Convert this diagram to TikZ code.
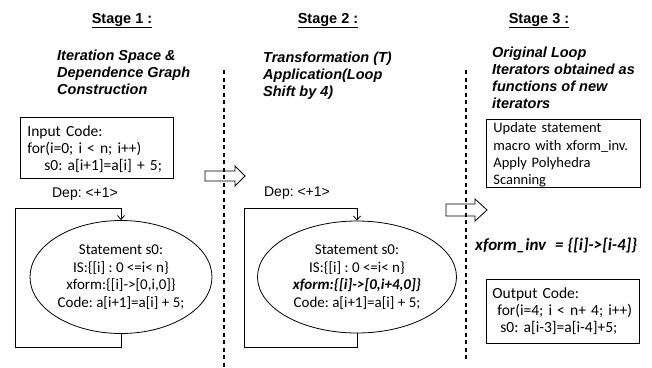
\documentclass[tikz,border=0pt]{standalone}
\usepackage{fontspec}
\setmainfont{Carlito}
\newfontfamily\arialf{Liberation Sans}
\usetikzlibrary{shapes.geometric,arrows.meta}
\frenchspacing
\begin{document}
\frenchspacing
\begin{tikzpicture}[x=1pt,y=-1pt,
  stagehead/.style={font=\arialf\bfseries\fontsize{14.5}{17}\selectfont, anchor=base, inner sep=0pt},
  subtitle/.style={font=\arialf\bfseries\itshape\fontsize{14.5}{17}\selectfont, anchor=north west, align=left, inner sep=0pt},
  codebox/.style={draw, line width=0.8pt, align=left, anchor=north west, inner ysep=0pt},
  stmt/.style={draw, ellipse, line width=0.8pt, font=\fontsize{15}{17.5}\selectfont, align=center, inner sep=0pt},
  deplabel/.style={font=\arialf\fontsize{14}{17}\selectfont, anchor=base, inner sep=0pt},
  loopline/.style={line width=0.8pt, -{Straight Barb[length=4pt,width=7pt]}},
  divider/.style={line width=1.2pt, dash pattern=on 4pt off 3.5pt},
  blockarrow/.style={line width=0.8pt}
]
\useasboundingbox (0,0) rectangle (652,367);

% headings
\node[stagehead] (h1) at (122,23) {\underline{Stage 1 :}};
\node[stagehead] (h2) at (328,23) {\underline{Stage 2 :}};
\node[stagehead] (h3) at (539,23) {\underline{Stage 3 :}};

\node[subtitle] (s1) at (57,50) {Iteration Space \&\\Dependence Graph\\Construction};
\node[subtitle] (s2) at (263,52) {Transformation (T)\\Application(Loop\\Shift by 4)};
\node[subtitle] (s3) at (492,47) {Original Loop\\Iterators obtained as\\functions of new\\iterators};

% stage 1
\node[codebox, font=\fontsize{15.5}{17}\selectfont, inner xsep=7pt, text width=139pt, minimum width=153pt, minimum height=61pt] (inbox) at (20,117)
  {\rule{0pt}{13pt}Input Code:\\for(i=0; i < n; i++)\\\hspace*{17pt}s0: a[i+1]=a[i] + 5;};
\node[deplabel] (dep1) at (85,197) {Dep: <+1>};
\node[stmt, minimum width=182pt, minimum height=113pt] (e1) at (121,277)
  {Statement s0:\\IS:\{[i] : 0 <=i< n\}\\xform:\{[i]->[0,i,0]\}\\Code: a[i+1]=a[i] + 5;};
\coordinate (l1bl) at (15,347);
\coordinate (l1tl) at (15,208);
\draw[loopline] (e1.south) |- (l1bl) -- (l1tl) -| (e1.north);

% stage 2
\node[deplabel] (dep2) at (297,196) {Dep: <+1>};
\node[stmt, minimum width=199pt, minimum height=112pt] (e2) at (357,277)
  {Statement s0:\\IS:\{[i] : 0 <=i< n\}\\\textbf{\textit{xform:\{[i]->[0,i+4,0]\}}}\\Code: a[i+1]=a[i] + 5;};
\coordinate (l2bl) at (244,347);
\coordinate (l2tl) at (244,208);
\draw[loopline] (e2.south) |- (l2bl) -- (l2tl) -| (e2.north);

% stage 3
\node[codebox, font=\fontsize{14.5}{17.3}\selectfont, inner xsep=7pt, text width=140pt, minimum width=154pt, minimum height=68pt] (upbox) at (486,119)
  {\rule{0pt}{13pt}Update statement\\macro with xform\_inv.\\Apply Polyhedra\\Scanning};
\node[font=\fontsize{17}{17}\selectfont\bfseries\itshape, anchor=base west, inner sep=0pt] (xinv) at (475,250)
  {xform\_inv\hspace{9pt}=\ \{[i]->[i-4]\}};
\node[codebox, font=\fontsize{15.5}{17}\selectfont, inner xsep=6pt, text width=141pt, minimum width=153pt, minimum height=64pt] (outbox) at (486,279)
  {Output Code:\\\hspace*{5pt}for(i=4; i < n+ 4; i++)\\\hspace*{8pt}s0: a[i-3]=a[i-4]+5;};

% block arrows
\draw[blockarrow] (205,171) -- (235,171) -- (235,166) -- (245,176) -- (235,186) -- (235,181) -- (205,181) -- cycle;
\draw[blockarrow] (446,204) -- (475,204) -- (475,199) -- (487,210) -- (475,221) -- (475,216) -- (446,216) -- cycle;

% dividers
\coordinate (d1t) at (224,70);
\coordinate (d1b) at (224,367);
\coordinate (d2t) at (466,70);
\coordinate (d2b) at (466,362);
\draw[divider] (d1t) -- (d1b);
\draw[divider] (d2t) -- (d2b);
\end{tikzpicture}
\end{document}
